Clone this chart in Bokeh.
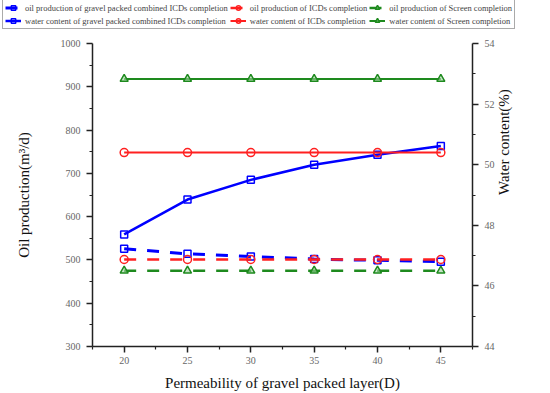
import math
from bokeh.plotting import figure
from bokeh.models import (Range1d, LinearAxis, FixedTicker, Legend, LegendItem)
from bokeh.embed import file_html
from bokeh.resources import INLINE

# ---- data ----
permeability = [20, 25, 30, 35, 40, 45]
oil_gravel_icd = [526, 514, 508, 502, 499, 496]
oil_icd = [501, 501, 501, 501, 501, 501]
oil_screen = [475, 475, 475, 475, 475, 475]
water_gravel_icd = [47.7, 48.85, 49.5, 50.0, 50.33, 50.62]
water_icd = [50.4, 50.4, 50.4, 50.4, 50.4, 50.4]
water_screen = [52.83, 52.83, 52.83, 52.83, 52.83, 52.83]

left_ticks = [300, 400, 500, 600, 700, 800, 900, 1000]
right_ticks = [44, 46, 48, 50, 52, 54]
x_ticks = [20, 25, 30, 35, 40, 45]

labels = [
    "oil production of gravel packed combined ICDs completion",
    "oil production of ICDs completion",
    "oil production of Screen completion",
    "water content of gravel packed combined ICDs completion",
    "water content of ICDs completion",
    "water content of Screen completion",
]

BLUE = "#0000FF"
RED = "#FF2020"
GREEN = "#1E8A1E"
SERIF = "Liberation Serif"
DASH = "12 11"

# series styles: (color, marker, line_width, dash)
styles = [
    (BLUE, "square", 3, DASH),
    (RED, "circle", 2.5, DASH),
    (GREEN, "triangle", 2.5, DASH),
    (BLUE, "square", 2.5, "solid"),
    (RED, "circle", 2, "solid"),
    (GREEN, "triangle", 2, "solid"),
]

def marker_kw(color, marker):
    fill = "#9fd09f" if marker == "triangle" else None
    return dict(marker=marker, size=7 if marker == "square" else 8, line_color=color,
                fill_color=fill, fill_alpha=0.6, line_width=1.5)

# ---- main plot ----
p = figure(width=550, height=358, output_backend="svg", toolbar_location=None,
           x_range=Range1d(17.5, 47.5), y_range=Range1d(300, 1000),
           min_border_left=92, min_border_right=78, min_border_top=8,
           min_border_bottom=46)
p.outline_line_color = None
p.grid.visible = False
p.background_fill_color = "white"
p.extra_y_ranges = {"water": Range1d(44, 54)}

def style_axis(ax):
    ax.axis_line_color = "#222222"
    ax.axis_line_width = 1.5
    ax.major_tick_line_color = "#222222"
    ax.minor_tick_line_color = "#222222"
    ax.major_tick_line_width = 1.5
    ax.minor_tick_line_width = 1.2
    ax.major_tick_out = 6
    ax.major_tick_in = 0
    ax.minor_tick_out = 3
    ax.minor_tick_in = 0
    ax.major_label_text_font = SERIF
    ax.major_label_text_font_size = "10px"
    ax.major_label_text_color = "#666666"
    ax.axis_label_text_font = SERIF
    ax.axis_label_text_font_size = "15px"
    ax.axis_label_text_font_style = "normal"
    ax.axis_label_text_color = "#111111"

xa = p.xaxis[0]
xa.ticker = FixedTicker(ticks=x_ticks, minor_ticks=[17.5, 22.5, 27.5, 32.5, 37.5, 42.5, 47.5])
xa.axis_label = "Permeability of gravel packed layer(D)"
style_axis(xa)
xa.major_label_standoff = 4
xa.axis_label_standoff = 8

ya = p.yaxis[0]
ya.ticker = FixedTicker(ticks=left_ticks, minor_ticks=[350, 450, 550, 650, 750, 850, 950])
ya.axis_label = "Oil production(m³/d)"
style_axis(ya)
ya.major_label_standoff = 6
ya.axis_label_standoff = 26

ra = LinearAxis(y_range_name="water", axis_label="Water content(%)")
ra.ticker = FixedTicker(ticks=right_ticks, minor_ticks=[45, 47, 49, 51, 53])
style_axis(ra)
ra.major_label_standoff = 6
ra.axis_label_standoff = 6
ra.axis_label_orientation = math.pi / 2
p.add_layout(ra, "right")

oil_series = [oil_gravel_icd, oil_icd, oil_screen]
water_series = [water_gravel_icd, water_icd, water_screen]

for i, ys in enumerate(oil_series):
    c, m, lw, d = styles[i]
    p.line(permeability, ys, line_color=c, line_width=lw, line_dash=d)
    p.scatter(permeability, ys, **marker_kw(c, m))
for i, ys in enumerate(water_series):
    c, m, lw, d = styles[i + 3]
    p.line(permeability, ys, line_color=c, line_width=lw, line_dash=d, y_range_name="water")
    p.scatter(permeability, ys, y_range_name="water", **marker_kw(c, m))

# ---- legend strip: its own small figure, frame covering the full width ----
lg = figure(width=550, height=35, output_backend="svg", toolbar_location=None,
            x_range=Range1d(0, 1), y_range=Range1d(0, 1),
            x_axis_type=None, y_axis_type=None,
            min_border_left=0, min_border_right=0, min_border_top=0, min_border_bottom=0)
lg.outline_line_color = None
lg.grid.visible = False

items = []
for i, lab in enumerate(labels):
    c, m, lw, d = styles[i]
    # legend-only proxies, placed outside the visible range
    rl = lg.line([-5, -4], [-5, -4], line_color=c, line_width=lw, line_dash=d)
    rm = lg.scatter([-5], [-5], **marker_kw(c, m))
    items.append(LegendItem(label=lab, renderers=[rl, rm]))

legend = Legend(items=items, orientation="horizontal", ncols=3, location=(2, 6))
legend.label_text_font = SERIF
legend.label_text_font_size = "8.5px"
legend.label_height = 11
legend.glyph_height = 11
legend.glyph_width = 16
legend.label_standoff = 4
legend.spacing = 2
legend.padding = 2
legend.margin = 0
legend.border_line_color = "#555555"
legend.border_line_width = 1
legend.background_fill_color = "white"
legend.background_fill_alpha = 1
lg.add_layout(legend, "center")

# two separate roots (no frame alignment between them), stacked vertically
open("out.html", "w").write(file_html((lg, p), INLINE))
